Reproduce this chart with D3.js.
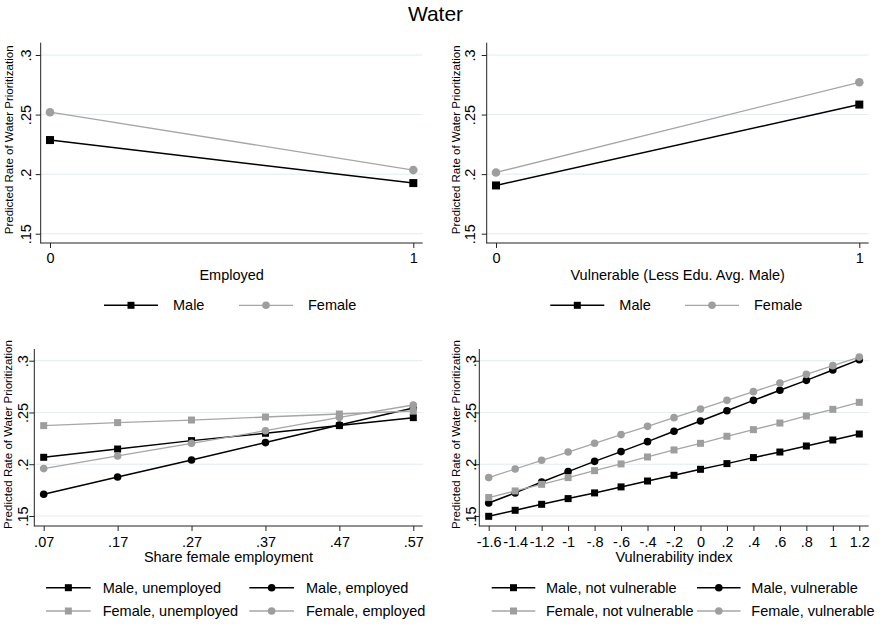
<!DOCTYPE html>
<html>
<head>
<meta charset="utf-8">
<script src="https://cdn.jsdelivr.net/npm/d3@7"></script>
<style>
  body { margin: 0; background: #fff; }
  text { font-family: "Liberation Sans", Arial, Helvetica, sans-serif; fill: #000; }
</style>
</head>
<body>
<script>
// values
var yTicks = [0.15, 0.2, 0.25, 0.3];

var empX = [0, 1];
var empMale = [0.2286, 0.1925];
var empFemale = [0.2520, 0.2034];

var vulX = [0, 1];
var vulMale = [0.1905, 0.2584];
var vulFemale = [0.2014, 0.2771];

var shareX = [0.07, 0.17, 0.27, 0.37, 0.47, 0.57];
var shareMaleUnemp = [0.2067, 0.2147, 0.2228, 0.2299, 0.2373, 0.2450];
var shareMaleEmp = [0.1710, 0.1877, 0.2041, 0.2209, 0.2379, 0.2543];
var shareFemaleUnemp = [0.2373, 0.2402, 0.2427, 0.2456, 0.2485, 0.2514];
var shareFemaleEmp = [0.1958, 0.2080, 0.2202, 0.2324, 0.2453, 0.2572];

var indexX = [-1.6, -1.4, -1.2, -1, -0.8, -0.6, -0.4, -0.2, 0, 0.2, 0.4, 0.6, 0.8, 1, 1.2];
var indexMaleNot = [0.1497, 0.1555, 0.1613, 0.1668, 0.1723, 0.1781, 0.1838, 0.1893, 0.1951, 0.2006, 0.2064, 0.2118, 0.2176, 0.2234, 0.2292];
var indexMaleVul = [0.1626, 0.1723, 0.1829, 0.1929, 0.2028, 0.2122, 0.2218, 0.2318, 0.2418, 0.2517, 0.2617, 0.2714, 0.2810, 0.2910, 0.3010];
var indexFemaleNot = [0.1678, 0.1742, 0.1806, 0.1871, 0.1938, 0.2003, 0.2070, 0.2138, 0.2202, 0.2270, 0.2334, 0.2398, 0.2466, 0.2530, 0.2598];
var indexFemaleVul = [0.1871, 0.1954, 0.2038, 0.2118, 0.2202, 0.2286, 0.2366, 0.2450, 0.2533, 0.2617, 0.2701, 0.2784, 0.2868, 0.2952, 0.3035];

var BLACK = "#000";
var GRAY = "#9e9e9e";
var GRAY_LINE = "#a6a6a6";
var GRID = "#e3ecee";
var FS = "14.5px";

var svg = d3.select("body").append("svg")
  .attr("width", 882)
  .attr("height", 625);

svg.append("text")
  .attr("x", 435.5)
  .attr("y", 20.5)
  .attr("text-anchor", "middle")
  .style("font-size", "21px")
  .text("Water");

// stata style labels: .25 instead of 0.25, plain hyphen for minus
function stataFmt(v) {
  var s = String(+v.toFixed(2));
  return s.replace(/^(-?)0\./, "$1.");
}

function marker(g, shape, cx, cy, size, color) {
  if (shape === "square") {
    g.append("rect")
      .attr("x", cx - size / 2).attr("y", cy - size / 2)
      .attr("width", size).attr("height", size)
      .attr("fill", color);
  } else {
    g.append("circle")
      .attr("cx", cx).attr("cy", cy)
      .attr("r", size / 2 + 0.3)
      .attr("fill", color);
  }
}

function drawPanel(p) {
  var x = d3.scaleLinear().domain(p.xDomain).range(p.xRange);
  var y = d3.scaleLinear().domain([0.15, 0.3]).range(p.yRange);
  var g = svg.append("g");

  // grid
  g.selectAll("line.grid").data(yTicks).enter().append("line")
    .attr("x1", p.left).attr("x2", p.right)
    .attr("y1", function(d) { return y(d); })
    .attr("y2", function(d) { return y(d); })
    .attr("stroke", GRID).attr("stroke-width", 1);

  // axes
  var ya = g.append("g").attr("transform", "translate(" + p.left + ",0)")
    .call(d3.axisLeft(y).tickValues(yTicks).tickSize(5).tickFormat(stataFmt));
  ya.select(".domain").remove();
  ya.selectAll(".tick line").attr("stroke", "#222");
  ya.selectAll(".tick text")
    .attr("transform", "rotate(-90)")
    .attr("x", 0).attr("y", -p.yLabGap).attr("dy", 0)
    .attr("text-anchor", "middle")
    .style("font-size", FS).style("font-family", null);

  var xa = g.append("g").attr("transform", "translate(0," + p.bottom + ")")
    .call(d3.axisBottom(x).tickValues(p.xData).tickSize(5).tickFormat(stataFmt));
  xa.select(".domain").remove();
  xa.selectAll(".tick line").attr("stroke", "#222");
  xa.selectAll(".tick text")
    .attr("y", p.xLabBase - p.bottom).attr("dy", 0)
    .style("font-size", FS).style("font-family", null);

  g.append("line").attr("x1", p.left).attr("x2", p.left)
    .attr("y1", p.top).attr("y2", p.bottom + 0.5)
    .attr("stroke", "#222").attr("stroke-width", 1);
  g.append("line").attr("x1", p.left).attr("x2", p.right)
    .attr("y1", p.bottom).attr("y2", p.bottom)
    .attr("stroke", "#222").attr("stroke-width", 1);

  // axis titles
  g.append("text")
    .attr("transform", "translate(" + (p.left - p.yTitleGap) + "," + ((p.top + p.bottom) / 2 - 3) + ") rotate(-90)")
    .attr("text-anchor", "middle")
    .style("font-size", "11.5px")
    .text("Predicted Rate of Water Prioritization");
  g.append("text")
    .attr("x", (p.left + p.right) / 2)
    .attr("y", p.xTitleBase)
    .attr("text-anchor", "middle")
    .style("font-size", FS)
    .text(p.xTitle);

  // series
  var line = d3.line()
    .x(function(d) { return x(d[0]); })
    .y(function(d) { return y(d[1]); });

  p.series.forEach(function(s) {
    var pts = p.xData.map(function(v, i) { return [v, s.values[i]]; });
    g.append("path").datum(pts)
      .attr("d", line)
      .attr("fill", "none")
      .attr("stroke", s.color === BLACK ? BLACK : GRAY_LINE)
      .attr("stroke-width", s.color === BLACK ? 1.5 : 1.3);
    pts.forEach(function(d) {
      marker(g, s.shape, x(d[0]), y(d[1]), p.markSize, s.color);
    });
  });

  // legend
  p.legend.forEach(function(it) {
    var s = p.series[it.idx];
    g.append("line")
      .attr("x1", it.x).attr("x2", it.x + p.legLine)
      .attr("y1", it.y).attr("y2", it.y)
      .attr("stroke", s.color === BLACK ? BLACK : GRAY_LINE)
      .attr("stroke-width", s.color === BLACK ? 1.5 : 1.3);
    marker(g, s.shape, it.x + p.legLine / 2, it.y, 7, s.color);
    g.append("text")
      .attr("x", it.x + p.legLine + p.legText)
      .attr("y", it.y + 5)
      .style("font-size", FS)
      .text(s.label);
  });
}

drawPanel({
  left: 40.7, right: 422.7, top: 42.7, bottom: 243,
  xDomain: [0, 1], xRange: [50, 413.3], yRange: [233.7, 55],
  xData: empX, xTitle: "Employed",
  yLabGap: 9.5, yTitleGap: 28, xLabBase: 263.3, xTitleBase: 279.5,
  markSize: 8, legLine: 54, legText: 15,
  series: [
    {label: "Male", values: empMale, color: BLACK, shape: "square"},
    {label: "Female", values: empFemale, color: GRAY, shape: "circle"}
  ],
  legend: [{idx: 0, x: 104, y: 305.3}, {idx: 1, x: 239, y: 305.3}]
});

drawPanel({
  left: 486.7, right: 868.7, top: 42.7, bottom: 243,
  xDomain: [0, 1], xRange: [496, 859.3], yRange: [233.7, 55],
  xData: vulX, xTitle: "Vulnerable (Less Edu. Avg. Male)",
  yLabGap: 12, yTitleGap: 27, xLabBase: 263.3, xTitleBase: 279.5,
  markSize: 8, legLine: 54, legText: 15,
  series: [
    {label: "Male", values: vulMale, color: BLACK, shape: "square"},
    {label: "Female", values: vulFemale, color: GRAY, shape: "circle"}
  ],
  legend: [{idx: 0, x: 550.3, y: 305.3}, {idx: 1, x: 685, y: 305.3}]
});

drawPanel({
  left: 34.3, right: 422.7, top: 349, bottom: 526,
  xDomain: [0.07, 0.57], xRange: [43.7, 413.3], yRange: [516, 360.7],
  xData: shareX, xTitle: "Share female employment",
  yLabGap: 6, yTitleGap: 22, xLabBase: 546.7, xTitleBase: 561.7,
  markSize: 7, legLine: 44.7, legText: 12,
  series: [
    {label: "Male, unemployed", values: shareMaleUnemp, color: BLACK, shape: "square"},
    {label: "Male, employed", values: shareMaleEmp, color: BLACK, shape: "circle"},
    {label: "Female, unemployed", values: shareFemaleUnemp, color: GRAY, shape: "square"},
    {label: "Female, employed", values: shareFemaleEmp, color: GRAY, shape: "circle"}
  ],
  legend: [
    {idx: 0, x: 46, y: 587.7}, {idx: 1, x: 249.3, y: 587.7},
    {idx: 2, x: 46, y: 611}, {idx: 3, x: 249.3, y: 611}
  ]
});

drawPanel({
  left: 479.3, right: 868.7, top: 349, bottom: 526,
  xDomain: [-1.6, 1.2], xRange: [488.7, 859.3], yRange: [516, 360.7],
  xData: indexX, xTitle: "Vulnerability index",
  yLabGap: 3, yTitleGap: 19, xLabBase: 546.7, xTitleBase: 561.7,
  markSize: 7, legLine: 43.6, legText: 10.7,
  series: [
    {label: "Male, not vulnerable", values: indexMaleNot, color: BLACK, shape: "square"},
    {label: "Male, vulnerable", values: indexMaleVul, color: BLACK, shape: "circle"},
    {label: "Female, not vulnerable", values: indexFemaleNot, color: GRAY, shape: "square"},
    {label: "Female, vulnerable", values: indexFemaleVul, color: GRAY, shape: "circle"}
  ],
  legend: [
    {idx: 0, x: 491.7, y: 587.7}, {idx: 1, x: 697, y: 587.7},
    {idx: 2, x: 491.7, y: 611}, {idx: 3, x: 697, y: 611}
  ]
});
</script>
</body>
</html>
